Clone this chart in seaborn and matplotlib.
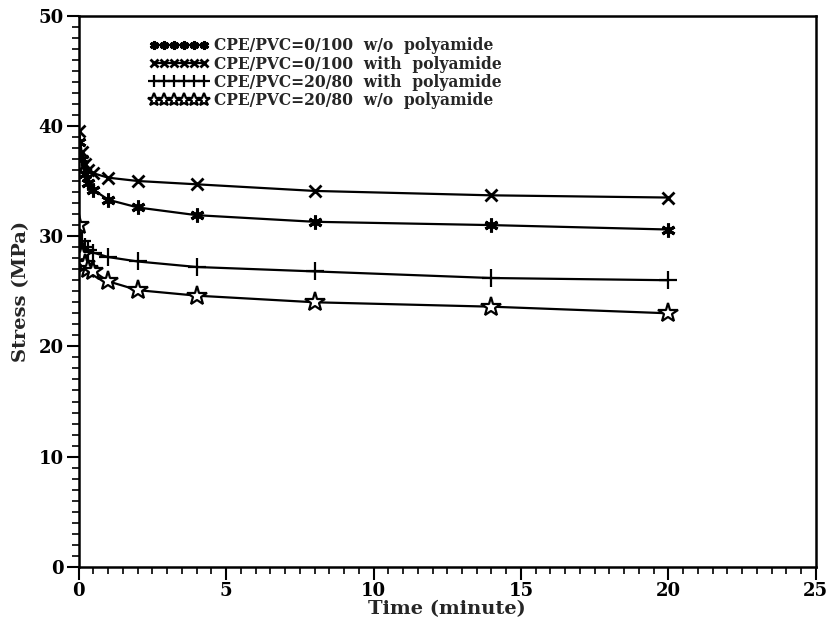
import matplotlib
matplotlib.use("Agg")
import matplotlib.pyplot as plt
from matplotlib.ticker import MultipleLocator
import numpy as np
import pandas as pd
import seaborn as sns

# Stress relaxation measurements
time_min = [0, 0.1, 0.2, 0.3, 0.5, 1, 2, 4, 8, 14, 20]

series_labels = [
    "CPE/PVC=0/100  w/o  polyamide",
    "CPE/PVC=0/100  with  polyamide",
    "CPE/PVC=20/80  with  polyamide",
    "CPE/PVC=20/80  w/o  polyamide",
]

stress_0_100_without = [38.5, 37.0, 35.6, 34.8, 34.2, 33.3, 32.6, 31.9, 31.3, 31.0, 30.6]
stress_0_100_with = [39.5, 37.6, 36.5, 36.0, 35.7, 35.3, 35.0, 34.7, 34.1, 33.7, 33.5]
stress_20_80_with = [31.2, 29.6, 29.0, 28.7, 28.5, 28.1, 27.7, 27.2, 26.8, 26.2, 26.0]
stress_20_80_without = [31.0, 28.3, 27.5, 27.0, 26.8, 25.9, 25.1, 24.6, 24.0, 23.6, 23.0]

x_ticks = [0, 5, 10, 15, 20, 25]
y_ticks = [0, 10, 20, 30, 40, 50]

frames = []
for lab, vals in zip(series_labels, [stress_0_100_without, stress_0_100_with,
                                     stress_20_80_with, stress_20_80_without]):
    frames.append(pd.DataFrame({"time": time_min, "stress": vals, "sample": lab}))
df = pd.concat(frames, ignore_index=True)

sns.set_theme(style="ticks")
plt.rcParams["font.family"] = ["DejaVu Serif"]
plt.rcParams["font.weight"] = "bold"

fig = plt.figure(figsize=(8.29, 6.25), dpi=100)
ax = fig.add_axes([0.095, 0.093, 0.889, 0.882])

marker_styles = {
    series_labels[0]: dict(marker=(6, 2, 0), markersize=10, markeredgewidth=2.2,
                           markerfacecolor="black", markeredgecolor="black"),
    series_labels[1]: dict(marker="x", markersize=9, markeredgewidth=2.0,
                           markerfacecolor="black", markeredgecolor="black"),
    series_labels[2]: dict(marker="+", markersize=13, markeredgewidth=1.6,
                           markerfacecolor="black", markeredgecolor="black"),
    series_labels[3]: dict(marker="*", markersize=15, markeredgewidth=1.6,
                           markerfacecolor="white", markeredgecolor="black"),
}

for lab in series_labels:
    sub = df[df["sample"] == lab]
    sns.lineplot(data=sub, x="time", y="stress", ax=ax, color="black",
                 linewidth=1.6, label=lab, **marker_styles[lab])

ax.set_xlim(0, 25)
ax.set_ylim(0, 50)
ax.set_xticks(x_ticks)
ax.set_yticks(y_ticks)
ax.xaxis.set_minor_locator(MultipleLocator(0.5))
ax.yaxis.set_minor_locator(MultipleLocator(1))
ax.tick_params(axis="both", which="major", direction="out", length=9, width=1.5,
               labelsize=13, color="black", labelcolor="black", pad=2)
ax.tick_params(axis="both", which="minor", direction="out", length=5, width=1.2,
               color="black")
for lbl in ax.get_xticklabels() + ax.get_yticklabels():
    lbl.set_fontweight("bold")

for sp in ax.spines.values():
    sp.set_visible(True)
    sp.set_linewidth(1.8)
    sp.set_color("black")

ax.set_xlabel("Time (minute)", fontsize=14, fontweight="bold", labelpad=0)
ax.set_ylabel("Stress (MPa)", fontsize=14, fontweight="bold", labelpad=6)

leg = ax.legend(loc="upper left", bbox_to_anchor=(0.088, 0.972), frameon=False,
                numpoints=6, handlelength=3.8, handletextpad=0.3,
                labelspacing=0.08, borderaxespad=0,
                prop={"family": "DejaVu Serif", "weight": "bold", "size": 11.2})
for h in leg.legend_handles:
    h.set_markersize(h.get_markersize() * 0.65)

fig.savefig("out.png", dpi=100)
